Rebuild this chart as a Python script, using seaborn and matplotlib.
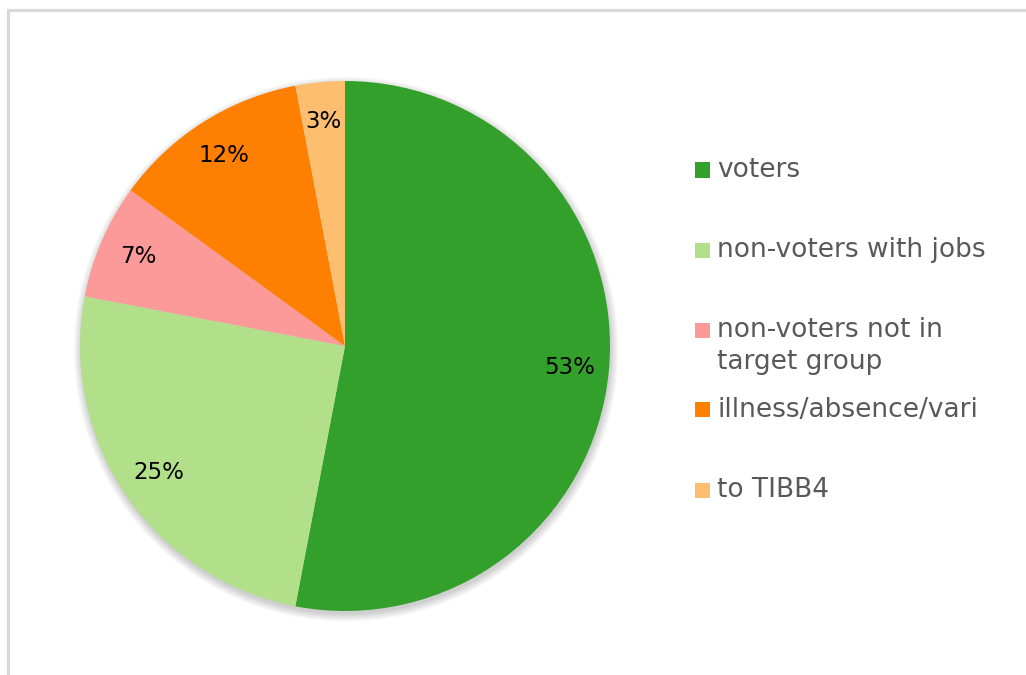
import matplotlib
matplotlib.use("Agg")
import matplotlib.pyplot as plt
import seaborn as sns
from matplotlib.patches import Rectangle, Circle

categories = ["voters", "non-voters with jobs", "non-voters not in\ntarget group",
              "illness/absence/vari", "to TIBB4"]
values = [53, 25, 7, 12, 3]

sns.set_theme(style="white")
plt.rcParams['font.family'] = ['DejaVu Sans']

pal = sns.color_palette("Paired")
colors = [pal[3], pal[2], pal[4], pal[7], pal[6]]

W, H = 1026, 675
fig = plt.figure(figsize=(W / 100, H / 100), dpi=100)
fig.patch.set_facecolor("white")

# outer border (top and left visible)
fig.patches.append(Rectangle((8 / W, -0.1), 1.2, (H - 10) / H + 0.1,
                             transform=fig.transFigure, fill=False,
                             edgecolor="#d9d9d9", linewidth=2.2))

cx, cy, r = 345, 346, 265
ax = fig.add_axes([(cx - r) / W, 1 - (cy + r) / H, 2 * r / W, 2 * r / H])

# soft shadow
for k in range(8):
    ax.add_patch(Circle((0.004, -0.012), 1.0 + 0.004 * k, facecolor="black",
                        edgecolor="none", alpha=0.025, clip_on=False, zorder=0))

wedges, texts, autotexts = ax.pie(
    values, colors=colors, startangle=90, counterclock=False,
    autopct=lambda p: f"{p:.0f}%", pctdistance=0.85,
    wedgeprops=dict(linewidth=0),
    textprops=dict(fontsize=16.5, color="black"))
for w in wedges:
    w.set_zorder(2)
for t in autotexts:
    t.set_zorder(3)
ax.set_xlim(-1, 1)
ax.set_ylim(-1, 1)
ax.set_aspect("equal")
ax.axis("off")

# legend
lx, ly0, step, sq = 695, 170, 80, 15
for i, (lab, col) in enumerate(zip(categories, colors)):
    y = ly0 + step * i
    fig.patches.append(Rectangle((lx / W, 1 - (y + sq / 2) / H), sq / W, sq / H,
                                 transform=fig.transFigure, facecolor=col,
                                 edgecolor="none"))
    fig.text((lx + 22) / W, 1 - (y - 13) / H, lab, fontsize=19, color="#595959",
             ha="left", va="top", linespacing=1.3)

fig.savefig("out.png", dpi=100, facecolor="white")
